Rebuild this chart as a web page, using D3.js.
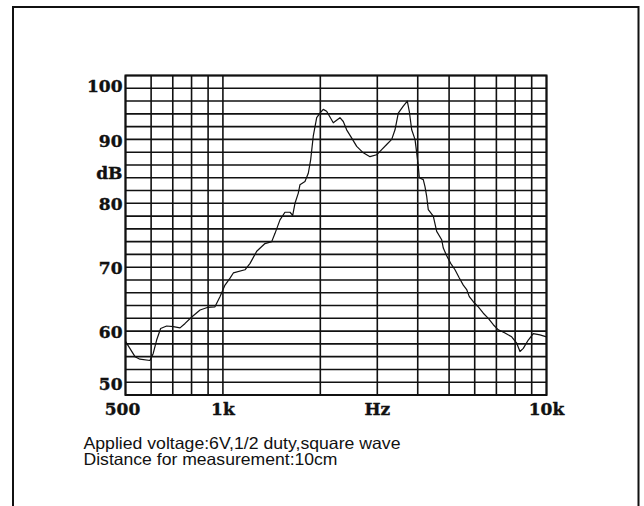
<!DOCTYPE html>
<html>
<head>
<meta charset="utf-8">
<script src="https://cdn.jsdelivr.net/npm/d3@7/dist/d3.min.js"></script>
<style>
  html, body { margin: 0; padding: 0; background: #fff; }
  svg { display: block; }
</style>
</head>
<body>
<svg id="chart" width="644" height="506"></svg>
<script>
// ---- data ----
const freqs = [500,535,554,595,609,624,642,670,703,737,764,801,850,895,945,980,1015,1052,1077,1170,1213,1272,1349,1415,1449,1501,1555,1612,1643,1670,1710,1730,1793,1836,1867,1902,1949,1995,2042,2092,2193,2300,2355,2412,2501,2591,2716,2848,2987,3095,3207,3324,3403,3483,3609,3714,3767,3832,3923,3971,4016,4045,4161,4212,4263,4312,4468,4578,4743,4798,4915,5057,5215,5377,5532,5667,5773,5940,6155,6379,6610,6849,7096,7443,7806,8089,8281,8477,8784,9102,9546,10000];
const levels = [58.4,56.0,55.6,55.4,56.5,58.6,60.4,60.8,60.7,60.5,61.2,62.2,63.3,63.7,63.8,65.4,67.2,68.3,69.1,69.6,70.6,72.5,73.7,74.0,75.3,77.4,78.6,78.6,78.1,80.0,81.6,82.9,83.4,84.7,86.8,90.5,93.4,94.1,94.7,94.4,92.6,93.4,92.8,91.5,90.2,88.9,87.9,87.3,87.6,88.4,89.2,90.0,91.5,94.1,95.2,96.0,94.4,91.5,90.0,87.9,85.8,84.0,83.7,82.6,81.1,79.0,78.0,75.6,74.3,73.0,71.8,70.6,69.6,68.3,67.2,66.5,65.4,64.6,63.8,62.8,62.0,61.0,60.2,59.7,59.1,58.1,56.8,57.3,58.6,59.6,59.4,59.1];
const xGridFreqs = [500,600,700,800,900,1000,2000,3000,4000,5000,6000,7000,8000,9000,10000];
const yGridLevels = [50,52,54,56,58,60,62,64,66,68,70,72,74,76,78,80,82,84,86,88,90,92,94,96,98,100];
const yTickValues = [100,90,80,70,60,50];
const yTickLabels = ["100","90","80","70","60","50"];
const yUnit = "dB";
const xTickValues = [500,1000,3000,10000];
const xTickLabels = ["500","1k","Hz","10k"];
const notes = ["Applied voltage:6V,1/2 duty,square wave","Distance for measurement:10cm"];

// ---- layout ----
const L = 125.5, R = 546.5, T = 75.5, B = 395;
const svg = d3.select("#chart");
const x = d3.scaleLog().domain([500, 10000]).range([L, R]);
const y = d3.scaleLinear().domain([50, 100]).range([B, T]);

// outer frame (open at the bottom)
svg.append("path")
  .attr("d", "M13,520 V7 H638.5 V520")
  .attr("fill", "none").attr("stroke", "#111").attr("stroke-width", 2);

// grid
const g = svg.append("g");
g.selectAll("line.h").data(yGridLevels).join("line")
  .attr("x1", L).attr("x2", R)
  .attr("y1", d => y(d)).attr("y2", d => y(d))
  .attr("stroke", "#111").attr("stroke-width", 1.6);
g.selectAll("line.v").data(xGridFreqs).join("line")
  .attr("y1", T).attr("y2", B)
  .attr("x1", d => x(d)).attr("x2", d => x(d))
  .attr("stroke", "#111").attr("stroke-width", 1.6);
g.append("rect").attr("x", L).attr("y", T).attr("width", R - L).attr("height", B - T)
  .attr("fill", "none").attr("stroke", "#111").attr("stroke-width", 2);

// curve
const line = d3.line().x((d, i) => x(freqs[i])).y(d => y(d)).curve(d3.curveLinear);
svg.append("path").datum(levels)
  .attr("d", line)
  .attr("fill", "none").attr("stroke", "#111").attr("stroke-width", 1.2)
  .attr("stroke-linejoin", "round");

// y labels
const serif = "'DejaVu Serif', serif";
function boldText(sel) {
  sel.attr("font-family", serif).attr("font-weight", "bold").attr("font-size", 17)
    .attr("fill", "#111").attr("stroke", "#111").attr("stroke-width", 0.4);
}
svg.selectAll("text.yl").data(yTickValues).join("text")
  .attr("x", L - 3)
  .attr("y", d => Math.max(T + 10, Math.min(B - 11, y(d) + 1)))
  .attr("dy", "0.36em")
  .attr("text-anchor", "end")
  .call(boldText)
  .text((d, i) => yTickLabels[i]);
svg.append("text")
  .attr("x", L - 3).attr("y", (y(90) + y(80)) / 2 + 1.5).attr("dy", "0.36em")
  .attr("text-anchor", "end")
  .call(boldText).text(yUnit);

// x labels
svg.selectAll("text.xl").data(xTickValues).join("text")
  .attr("x", d => x(d) - (d === 500 ? 3 : 0))
  .attr("y", B + 14).attr("dy", "0.36em")
  .attr("text-anchor", "middle")
  .call(boldText)
  .text((d, i) => xTickLabels[i]);

// notes
const noteLengths = [317, 254];
svg.selectAll("text.note").data(notes).join("text")
  .attr("x", 83.5)
  .attr("y", (d, i) => 448.5 + i * 16.7)
  .attr("font-family", "'Liberation Sans', Arial, sans-serif").attr("font-size", 16.5)
  .attr("textLength", (d, i) => noteLengths[i]).attr("lengthAdjust", "spacingAndGlyphs")
  .attr("fill", "#111")
  .text(d => d);
</script>
</body>
</html>
